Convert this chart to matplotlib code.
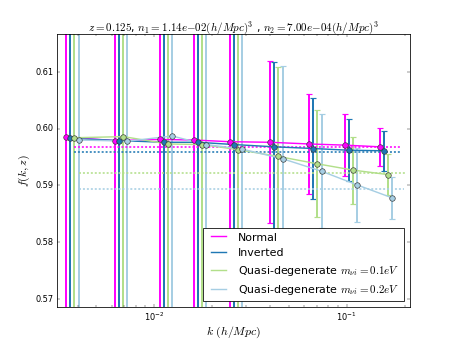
import numpy as np
import matplotlib
matplotlib.use('Agg')
import matplotlib.pyplot as plt
from matplotlib.ticker import MultipleLocator, ScalarFormatter

# k bins (h/Mpc) of the "Normal" series; other series are dodged slightly in k
k = [0.00349, 0.00627, 0.01070, 0.01608, 0.02469, 0.04008, 0.06391, 0.09763, 0.14898]
dodge = [1.0, 1.051, 1.103, 1.158]

labels = ['Normal', 'Inverted',
          r'Quasi-degenerate $m_{\nu i}=0.1eV$',
          r'Quasi-degenerate $m_{\nu i}=0.2eV$']
colors = ['#ff00ff', '#1f78b4', '#b2df8a', '#a6cee3']

f_normal = [0.5985, 0.5979, 0.5981, 0.5980, 0.5977, 0.5976, 0.5973, 0.5971, 0.5968]
f_inverted = [0.5983, 0.5979, 0.5976, 0.5976, 0.5972, 0.5968, 0.5965, 0.5962, 0.5961]
f_qd1 = [0.5984, 0.5986, 0.5973, 0.5972, 0.5963, 0.5951, 0.5938, 0.5927, 0.5919]
f_qd2 = [0.5980, 0.5978, 0.5987, 0.5972, 0.5964, 0.5947, 0.5925, 0.5901, 0.5878]

err_normal = [0.40, 0.17, 0.09, 0.055, 0.034, 0.0143, 0.0088, 0.0054, 0.0034]
err_inverted = [0.41, 0.17, 0.09, 0.056, 0.035, 0.0149, 0.0089, 0.0055, 0.0035]
err_qd1 = [0.42, 0.18, 0.095, 0.058, 0.036, 0.0157, 0.0094, 0.0059, 0.0036]
err_qd2 = [0.43, 0.18, 0.097, 0.060, 0.037, 0.0163, 0.0100, 0.0065, 0.0037]

# linear theory growth rate (dotted lines)
f_theory = [0.5968, 0.5959, 0.5921, 0.5894]

f_all = [f_normal, f_inverted, f_qd1, f_qd2]
err_all = [err_normal, err_inverted, err_qd1, err_qd2]

plt.style.use('classic')
plt.rcParams['mathtext.fontset'] = 'cm'

fig = plt.figure(figsize=(8, 6), dpi=56.875, facecolor='white')
ax = fig.add_subplot(111)

kk = np.array(k)
for i in range(4):
    kx = kk * dodge[i]
    ax.errorbar(kx, f_all[i], yerr=err_all[i], fmt='none', ecolor=colors[i],
                elinewidth=2.5, capsize=3.5, capthick=1.5, zorder=2)
for i in range(4):
    kx = kk * dodge[i]
    ax.plot(kx, f_all[i], '-', color=colors[i], lw=1.8, label=labels[i], zorder=3)
    ax.plot(kx, f_all[i], 'o', color=colors[i], ms=7, mec='#333333', mew=0.8, zorder=4)
    lo = [1.10, 1.10, 1.16, 1.16][i]
    hi = [1.28, 1.28, 1.37, 1.34][i]
    ax.plot([kk[0] * lo, kk[-1] * hi], [f_theory[i], f_theory[i]], color=colors[i],
            lw=2, linestyle=(0, (2.5, 2.5)), zorder=3)

ax.set_xscale('log')
ax.set_xlim(0.00312, 0.212)
ax.set_ylim(0.5686, 0.6167)
ax.yaxis.set_major_locator(MultipleLocator(0.01))
ax.yaxis.set_major_formatter(ScalarFormatter(useOffset=False))
ax.tick_params(labelsize=10.5)

ax.set_xlabel(r'$k\ (h/Mpc)$', fontsize=15, labelpad=2)
ax.set_ylabel(r'$f(k,z)$', fontsize=15)
ax.set_title(r'$z=0.125$, $n_1=1.14e{-}02(h/Mpc)^3$ , $n_2=7.00e{-}04(h/Mpc)^3$',
             fontsize=14)

ax.legend(loc='lower right', fontsize=14, handlelength=2, borderaxespad=0.5)

fig.savefig('out.png', dpi=56.875, facecolor='white')
